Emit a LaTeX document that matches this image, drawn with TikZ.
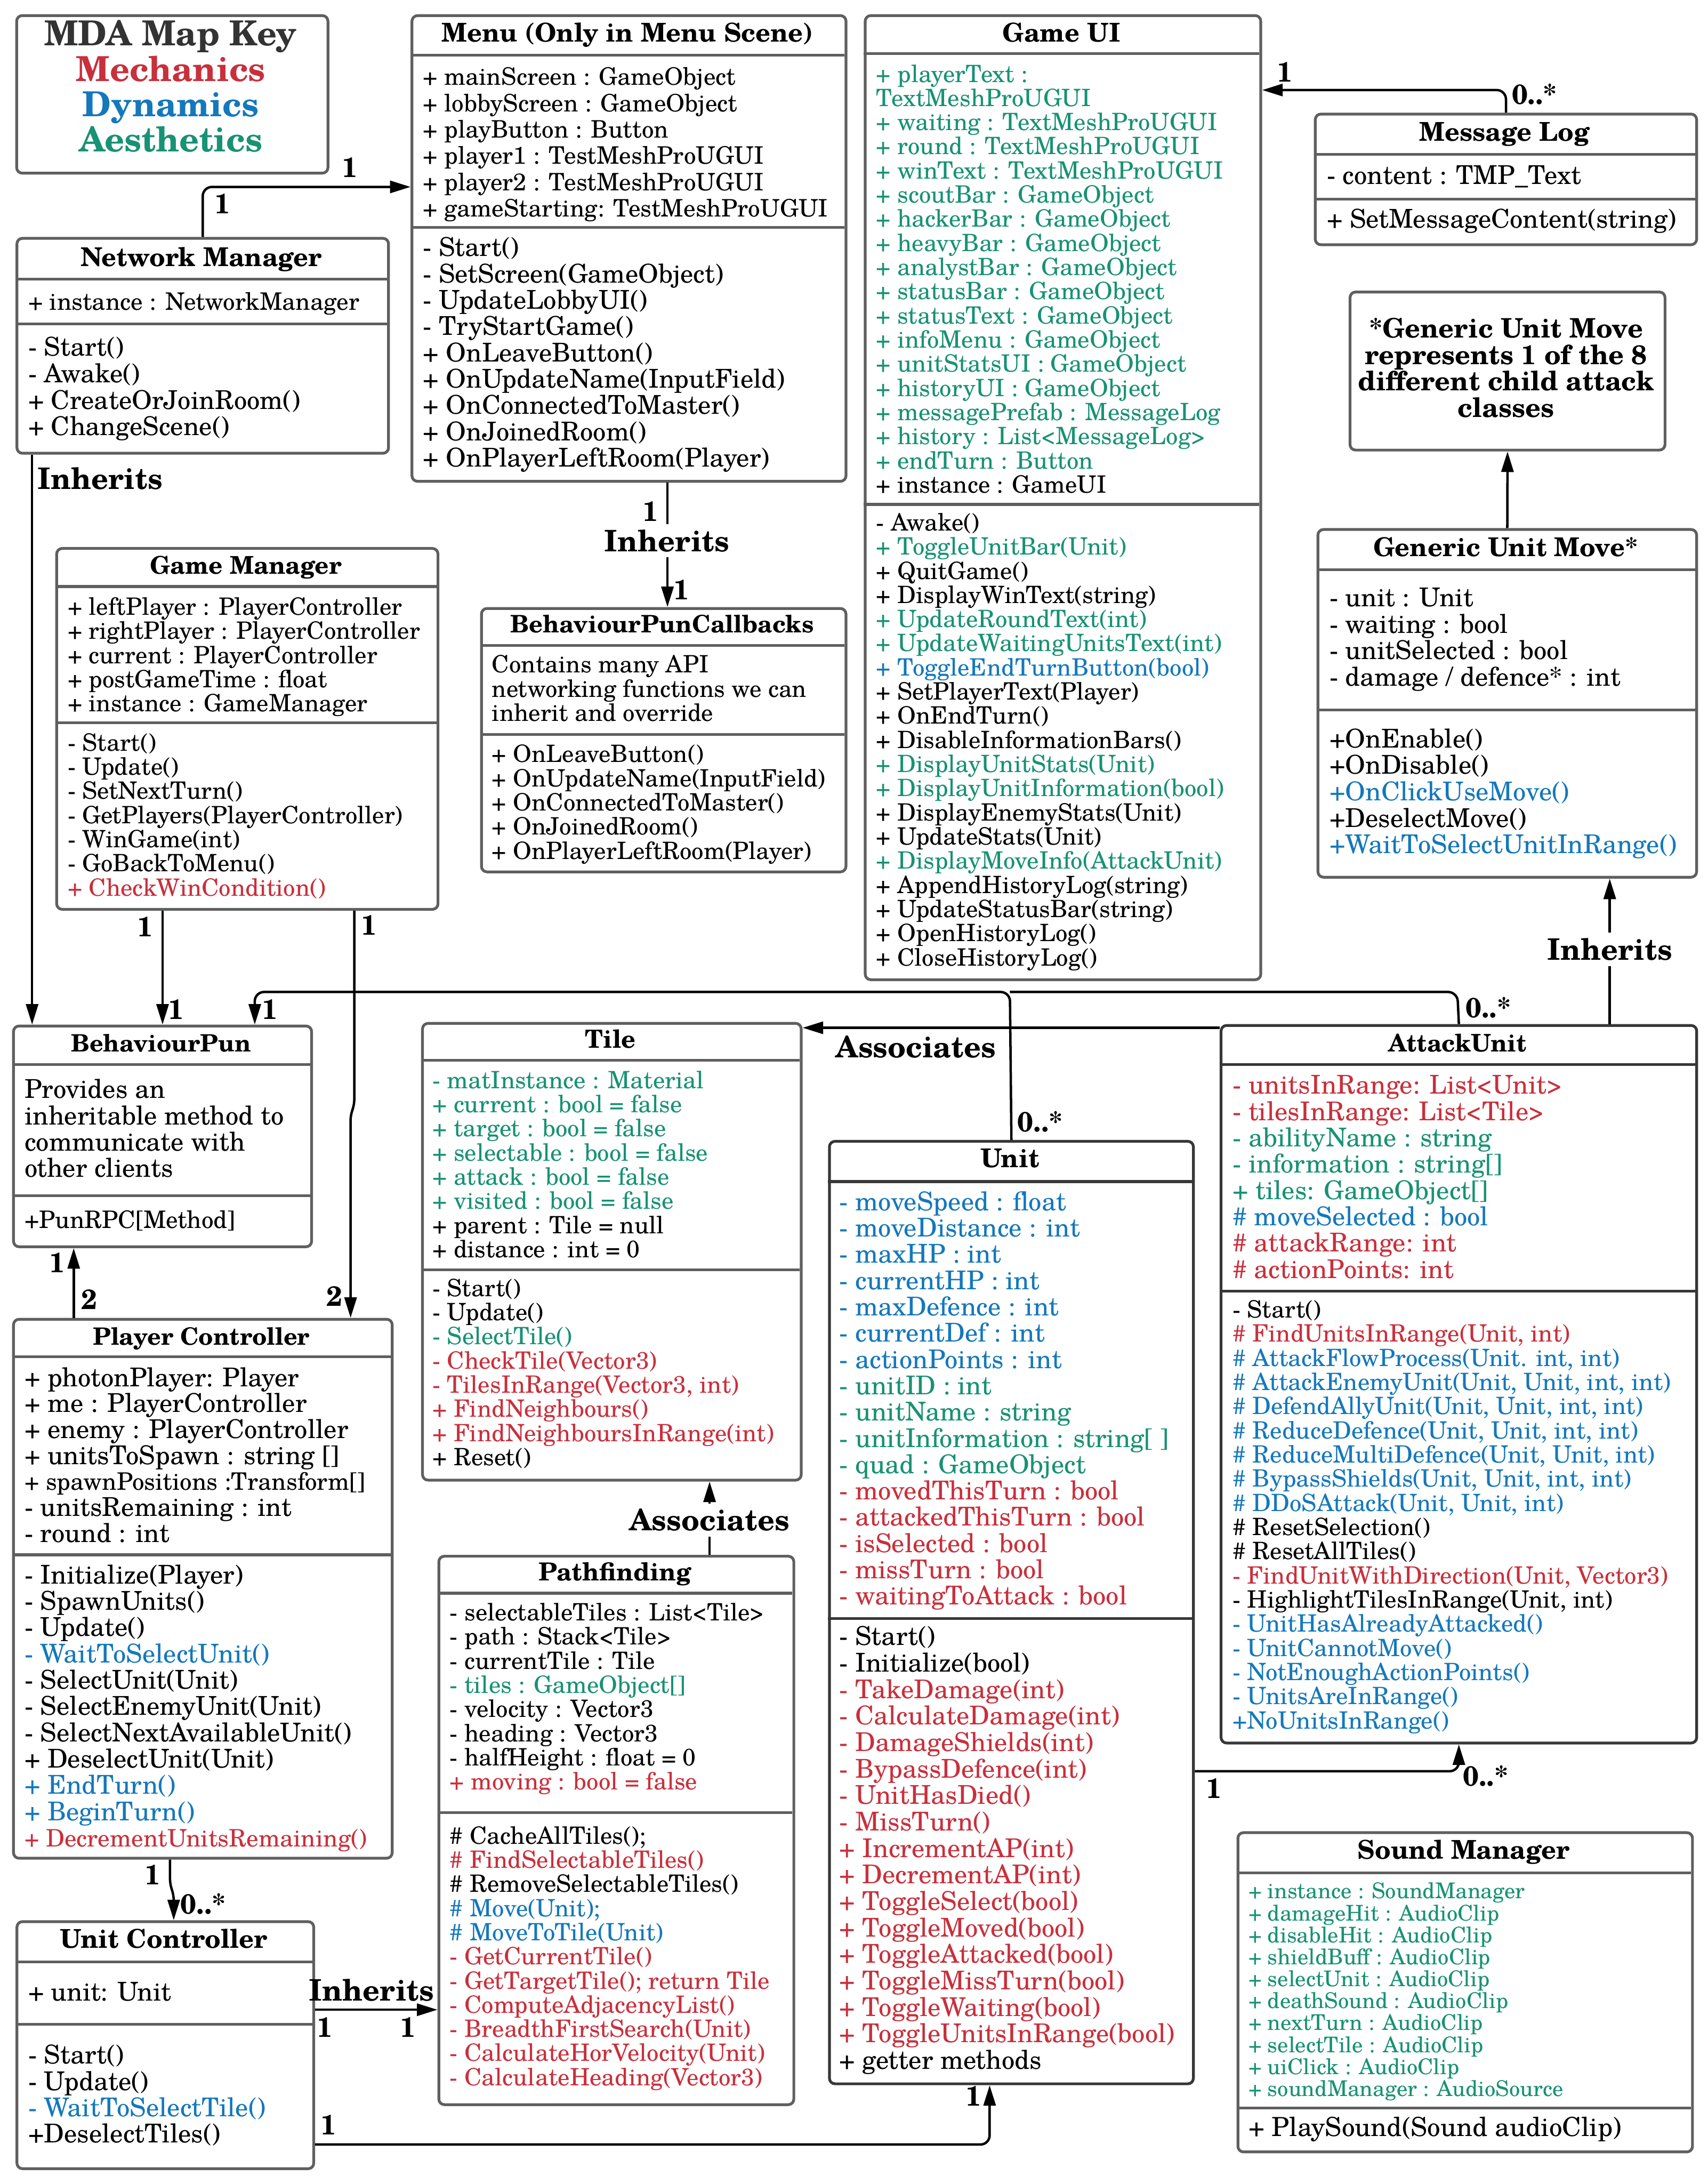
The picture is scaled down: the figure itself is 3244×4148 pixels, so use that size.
\documentclass[tikz,border=0pt]{standalone}
\usepackage{fontspec}
\setmainfont{texgyreschola}[Extension=.otf,UprightFont=*-regular,BoldFont=*-bold,ItalicFont=*-italic,BoldItalicFont=*-bolditalic]
\usetikzlibrary{arrows.meta}
\definecolor{mred}{RGB}{200,48,60}
\definecolor{mblue}{RGB}{20,120,188}
\definecolor{mgreen}{RGB}{24,146,116}
\definecolor{bgray}{RGB}{95,95,95}
\definecolor{bdark}{RGB}{55,55,55}
\newcommand\R[1]{\textcolor{mred}{#1}}
\newcommand\B[1]{\textcolor{mblue}{#1}}
\newcommand\G[1]{\textcolor{mgreen}{#1}}
\newcommand\lns[1]{\vtop{\let\\\cr\lineskiplimit=-100pt\relax\halign{##\hfil\cr#1\crcr}}}
\newcommand\clns[1]{\vtop{\let\\\cr\lineskiplimit=-100pt\relax\halign{\hfil##\hfil\cr#1\crcr}}}
\tikzset{
 umlbox/.style={draw=bgray, line width=1.5pt, rounded corners=3pt, anchor=north west, inner sep=0pt, fill=white},
 darkbox/.style={umlbox, draw=bdark},
 div/.style={draw=bgray, line width=1.5pt},
 ddiv/.style={draw=bdark, line width=1.5pt},
 ttl/.style={anchor=base, inner sep=0pt, font=\fontsize{14}{16}\selectfont\bfseries},
 ttls/.style={anchor=base, inner sep=0pt, font=\fontsize{13.1}{16}\selectfont\bfseries},
 txt/.style={anchor=base west, inner sep=0pt, font=\fontsize{13}{14.2}\selectfont},
 txtl/.style={anchor=base west, inner sep=0pt, font=\fontsize{14}{14.2}\selectfont},
 txts/.style={anchor=base west, inner sep=0pt, font=\fontsize{12.9}{13.05}\selectfont},
 conn/.style={draw=black, line width=1.3pt, rounded corners=5pt},
 arr/.style={conn, -{Triangle[length=0.39cm, width=0.23cm]}},
 mult/.style={inner sep=0pt, font=\fontsize{15}{16}\selectfont\bfseries},
 lbl/.style={inner sep=0pt, font=\fontsize{16}{18}\selectfont\bfseries},
 lblw/.style={lbl, fill=white, inner ysep=3pt, inner xsep=1pt},
}
\begin{document}
\begin{tikzpicture}[x=0.01cm, y=-0.01cm]
\fill[white] (0,0) rectangle (3244,4148);
\useasboundingbox (0,0) rectangle (3244,4148);

% ---------- MDA key
\node[umlbox, minimum width=5.91cm, minimum height=2.99cm] (key) at (29,27) {};
\node[anchor=base, inner sep=0pt, font=\fontsize{18.6}{20}\selectfont\bfseries, text=black!80] (keyt) at (324.5,87) {MDA Map Key};
\node[anchor=base, inner sep=0pt, font=\fontsize{18.6}{20}\selectfont\bfseries, text=mred] (keym) at (324.5,154) {Mechanics};
\node[anchor=base, inner sep=0pt, font=\fontsize{18.6}{20}\selectfont\bfseries, text=mblue] (keyd) at (324.5,221) {Dynamics};
\node[anchor=base, inner sep=0pt, font=\fontsize{18.6}{20}\selectfont\bfseries, text=mgreen] (keya) at (324.5,288) {Aesthetics};

% ---------- Network Manager
\node[umlbox, minimum width=7.055cm, minimum height=4.08cm] (nm) at (29.5,450) {};
\draw[div] (29.5,530) -- (735,530);
\draw[div] (29.5,615) -- (735,615);
\node[ttl] (nmt) at (382.25,506) {Network Manager};
\node[txt] (nma) at (53,589) {\lns{+ instance : NetworkManager}};
\node[anchor=base west, inner sep=0pt, font=\fontsize{14}{14.33}\selectfont] (nmm) at (53,676) {\lns{- Start()\\- Awake()\\+ CreateOrJoinRoom()\\+ ChangeScene()}};

% ---------- Menu
\node[umlbox, minimum width=8.24cm, minimum height=8.84cm] (menu) at (780,27) {};
\draw[div] (780,105) -- (1604,105);
\draw[div] (780,432) -- (1604,432);
\node[ttl] (menut) at (1192,80) {Menu (Only in Menu Scene)};
\node[txt] (menua) at (803,162) {\lns{+ mainScreen : GameObject\\+ lobbyScreen : GameObject\\+ playButton : Button\\+ player1 : TestMeshProUGUI\\+ player2 : TestMeshProUGUI\\+ gameStarting: TestMeshProUGUI}};
\node[txtl] (menum) at (803,487) {\lns{- Start()\\- SetScreen(GameObject)\\- UpdateLobbyUI()\\- TryStartGame()\\+ OnLeaveButton()\\+ OnUpdateName(InputField)\\+ OnConnectedToMaster()\\+ OnJoinedRoom()\\+ OnPlayerLeftRoom(Player)}};

% ---------- Game UI
\node[umlbox, minimum width=7.51cm, minimum height=18.30cm] (gui) at (1641,27) {};
\draw[div] (1641,102) -- (2392,102);
\draw[div] (1641,958) -- (2392,958);
\node[ttl] (guit) at (2016.5,79) {Game UI};
\node[txts] (guia) at (1664,156) {\lns{\G{+ playerText :}\\\G{TextMeshProUGUI}\\\G{+ waiting : TextMeshProUGUI}\\\G{+ round : TextMeshProUGUI}\\\G{+ winText : TextMeshProUGUI}\\\G{+ scoutBar : GameObject}\\\G{+ hackerBar : GameObject}\\\G{+ heavyBar : GameObject}\\\G{+ analystBar : GameObject}\\\G{+ statusBar : GameObject}\\\G{+ statusText : GameObject}\\\G{+ infoMenu : GameObject}\\\G{+ unitStatsUI : GameObject}\\\G{+ historyUI : GameObject}\\\G{+ messagePrefab : MessageLog}\\\G{+ history : List<MessageLog>}\\\G{+ endTurn : Button}\\+ instance : GameUI}};
\node[txts] (guim) at (1664,1008) {\lns{- Awake()\\\G{+ ToggleUnitBar(Unit)}\\+ QuitGame()\\+ DisplayWinText(string)\\\G{+ UpdateRoundText(int)}\\\G{+ UpdateWaitingUnitsText(int)}\\\B{+ ToggleEndTurnButton(bool)}\\+ SetPlayerText(Player)\\+ OnEndTurn()\\+ DisableInformationBars()\\\G{+ DisplayUnitStats(Unit)}\\\G{+ DisplayUnitInformation(bool)}\\+ DisplayEnemyStats(Unit)\\+ UpdateStats(Unit)\\\G{+ DisplayMoveInfo(AttackUnit)}\\+ AppendHistoryLog(string)\\+ UpdateStatusBar(string)\\+ OpenHistoryLog()\\+ CloseHistoryLog()}};

% ---------- Message Log
\node[umlbox, minimum width=7.24cm, minimum height=2.48cm] (msg) at (2496,214) {};
\draw[div] (2496,293) -- (3220,293);
\draw[div] (2496,378) -- (3220,378);
\node[ttl] (msgt) at (2858,268) {Message Log};
\node[txtl] (msga) at (2520,350) {\lns{- content : TMP\_Text}};
\node[txtl] (msgm) at (2520,433) {\lns{+ SetMessageContent(string)}};

% ---------- Note
\node[umlbox, minimum width=5.98cm, minimum height=3.00cm] (note) at (2562,552) {};
\node[anchor=base, inner sep=0pt, font=\fontsize{14.5}{14.23}\selectfont\bfseries] (notet) at (2861,642) {\clns{*Generic Unit Move\\represents 1 of the 8\\different child attack\\classes}};

% ---------- Generic Unit Move
\node[umlbox, minimum width=7.19cm, minimum height=6.60cm] (gum) at (2501,1003) {};
\draw[div] (2501,1082) -- (3220,1082);
\draw[div] (2501,1348) -- (3220,1348);
\node[ttl] (gumt) at (2860.5,1057) {Generic Unit Move*};
\node[anchor=base west, inner sep=0pt, font=\fontsize{14}{14.3}\selectfont] (guma) at (2525,1152) {\lns{- unit : Unit\\- waiting : bool\\- unitSelected : bool\\- damage / defence* : int}};
\node[anchor=base west, inner sep=0pt, font=\fontsize{14}{14.3}\selectfont] (gumm) at (2525,1420) {\lns{+OnEnable()\\+OnDisable()\\\B{+OnClickUseMove()}\\+DeselectMove()\\\B{+WaitToSelectUnitInRange()}}};

% ---------- BehaviourPunCallbacks
\node[umlbox, minimum width=6.92cm, minimum height=5.00cm] (bpc) at (912,1153) {};
\draw[div] (912,1226) -- (1604,1226);
\draw[div] (912,1395) -- (1604,1395);
\node[anchor=base, inner sep=0pt, font=\fontsize{13}{16}\selectfont\bfseries] (bpct) at (1258,1202) {BehaviourPunCallbacks};
\node[txts] (bpcd) at (934,1278) {\lns{Contains many API\\networking functions we can\\inherit and override}};
\node[txts] (bpcm) at (934,1448) {\lns{+ OnLeaveButton()\\+ OnUpdateName(InputField)\\+ OnConnectedToMaster()\\+ OnJoinedRoom()\\+ OnPlayerLeftRoom(Player)}};

% ---------- Game Manager
\node[umlbox, minimum width=7.24cm, minimum height=6.85cm] (gm) at (105,1039) {};
\draw[div] (105,1114) -- (829,1114);
\draw[div] (105,1373) -- (829,1373);
\node[anchor=base, inner sep=0pt, font=\fontsize{13.2}{16}\selectfont\bfseries] (gmt) at (467,1090) {Game Manager};
\node[txts] (gma) at (128,1168) {\lns{+ leftPlayer : PlayerController\\+ rightPlayer : PlayerController\\+ current : PlayerController\\+ postGameTime : float\\+ instance : GameManager}};
\node[txts] (gmm) at (128,1426) {\lns{- Start()\\- Update()\\- SetNextTurn()\\- GetPlayers(PlayerController)\\- WinGame(int)\\- GoBackToMenu()\\\R{+ CheckWinCondition()}}};

% ---------- BehaviourPun
\node[umlbox, minimum width=5.66cm, minimum height=4.19cm] (bp) at (23,1946) {};
\draw[div] (23,2022) -- (589,2022);
\draw[div] (23,2271) -- (589,2271);
\node[anchor=base, inner sep=0pt, font=\fontsize{12.9}{16}\selectfont\bfseries] (bpt) at (306,1998) {BehaviourPun};
\node[txtl] (bpd) at (46,2086) {\lns{Provides an\\inheritable method to\\communicate with\\other clients}};
\node[txt] (bpm) at (46,2333) {\lns{+PunRPC[Method]}};

% ---------- Tile
\node[umlbox, minimum width=7.19cm, minimum height=8.67cm] (tile) at (800,1941) {};
\draw[div] (800,2014) -- (1519,2014);
\draw[div] (800,2412) -- (1519,2412);
\node[anchor=base, inner sep=0pt, font=\fontsize{13.5}{16}\selectfont\bfseries] (tilet) at (1159.5,1990) {Tile};
\node[txts] (tilea) at (821,2067) {\lns{\G{- matInstance : Material}\\\G{+ current : bool = false}\\\G{+ target : bool = false}\\\G{+ selectable : bool = false}\\\G{+ attack : bool = false}\\\G{+ visited : bool = false}\\+ parent : Tile = null\\+ distance : int = 0}};
\node[txts] (tilem) at (821,2462) {\lns{- Start()\\- Update()\\\G{- SelectTile()}\\\R{- CheckTile(Vector3)}\\\R{- TilesInRange(Vector3, int)}\\\R{+ FindNeighbours()}\\\R{+ FindNeighboursInRange(int)}\\+ Reset()}};

% ---------- AttackUnit
\node[darkbox, minimum width=9.03cm, minimum height=13.62cm] (attack) at (2317,1945) {};
\draw[ddiv] (2317,2022) -- (3220,2022);
\draw[ddiv] (2317,2452) -- (3220,2452);
\node[ttls] (attackt) at (2768.5,1998) {AttackUnit};
\node[txtl] (attacka) at (2341,2078) {\lns{\R{- unitsInRange: List<Unit>}\\\R{- tilesInRange: List<Tile>}\\\G{- abilityName : string}\\\G{- information : string[]}\\\G{+ tiles: GameObject[]}\\\B{\# moveSelected : bool}\\\R{\# attackRange: int}\\\R{\# actionPoints: int}}};
\node[txts] (attackm) at (2341,2503) {\lns{- Start()\\\R{\# FindUnitsInRange(Unit, int)}\\\B{\# AttackFlowProcess(Unit. int, int)}\\\B{\# AttackEnemyUnit(Unit, Unit, int, int)}\\\B{\# DefendAllyUnit(Unit, Unit, int, int)}\\\B{\# ReduceDefence(Unit, Unit, int, int)}\\\B{\# ReduceMultiDefence(Unit, Unit, int)}\\\B{\# BypassShields(Unit, Unit, int, int)}\\\B{\# DDoSAttack(Unit, Unit, int)}\\\# ResetSelection()\\\# ResetAllTiles()\\\R{- FindUnitWithDirection(Unit, Vector3)}\\- HighlightTilesInRange(Unit, int)\\\B{- UnitHasAlreadyAttacked()}\\\B{- UnitCannotMove()}\\\B{- NotEnoughActionPoints()}\\\B{- UnitsAreInRange()}\\\B{+NoUnitsInRange()}}};

% ---------- Unit
\node[darkbox, minimum width=6.91cm, minimum height=17.89cm] (unit) at (1573,2165) {};
\draw[ddiv] (1573,2244) -- (2264,2244);
\draw[ddiv] (1573,3074) -- (2264,3074);
\node[ttl] (unitt) at (1918.5,2217) {Unit};
\node[txtl] (unita) at (1594,2299) {\lns{\B{- moveSpeed : float}\\\B{- moveDistance : int}\\\B{- maxHP : int}\\\B{- currentHP : int}\\\B{- maxDefence : int}\\\B{- currentDef : int}\\\B{- actionPoints : int}\\\G{- unitID : int}\\\G{- unitName : string}\\\G{- unitInformation : string[ ]}\\\G{- quad : GameObject}\\\R{- movedThisTurn : bool}\\\R{- attackedThisTurn : bool}\\\R{- isSelected : bool}\\\R{- missTurn : bool}\\\R{- waitingToAttack : bool}}};
\node[anchor=base west, inner sep=0pt, font=\fontsize{14}{14.3}\selectfont] (unitm) at (1594,3125) {\lns{- Start()\\- Initialize(bool)\\\R{- TakeDamage(int)}\\\R{- CalculateDamage(int)}\\\R{- DamageShields(int)}\\\R{- BypassDefence(int)}\\\R{- UnitHasDied()}\\\R{- MissTurn()}\\\R{+ IncrementAP(int)}\\\R{+ DecrementAP(int)}\\\R{+ ToggleSelect(bool)}\\\R{+ ToggleMoved(bool)}\\\R{+ ToggleAttacked(bool)}\\\R{+ ToggleMissTurn(bool)}\\\R{+ ToggleWaiting(bool)}\\\R{+ ToggleUnitsInRange(bool)}\\+ getter methods}};

% ---------- Player Controller
\node[umlbox, minimum width=7.19cm, minimum height=10.23cm] (pc) at (23,2503) {};
\draw[div] (23,2577) -- (742,2577);
\draw[div] (23,2953) -- (742,2953);
\node[anchor=base, inner sep=0pt, font=\fontsize{12.9}{16}\selectfont\bfseries] (pct) at (382.5,2554) {Player Controller};
\node[anchor=base west, inner sep=0pt, font=\fontsize{14}{14.03}\selectfont] (pca) at (46,2633) {\lns{+ photonPlayer: Player\\+ me : PlayerController\\+ enemy : PlayerController\\+ unitsToSpawn : string []\\{\fontsize{13}{14}\selectfont + spawnPositions :Transform[]}\\- unitsRemaining : int\\- round : int}};
\node[txtl] (pcm) at (46,3008) {\lns{- Initialize(Player)\\- SpawnUnits()\\- Update()\\\B{- WaitToSelectUnit()}\\- SelectUnit(Unit)\\- SelectEnemyUnit(Unit)\\- SelectNextAvailableUnit()\\+ DeselectUnit(Unit)\\\B{+ EndTurn()}\\\B{+ BeginTurn()}\\{\fontsize{13}{14}\selectfont\R{+ DecrementUnitsRemaining()}}}};

% ---------- Pathfinding
\node[umlbox, minimum width=6.74cm, minimum height=10.41cm] (pf) at (831,2953) {};
\draw[div] (831,3026) -- (1505,3026);
\draw[div] (831,3443) -- (1505,3443);
\node[anchor=base, inner sep=0pt, font=\fontsize{13.4}{16}\selectfont\bfseries] (pft) at (1168,3002) {Pathfinding};
\node[txts] (pfa) at (854,3078) {\lns{- selectableTiles : List<Tile>\\- path : Stack<Tile>\\- currentTile : Tile\\\G{- tiles : GameObject[]}\\- velocity : Vector3\\- heading : Vector3\\- halfHeight : float = 0\\\R{+ moving : bool = false}}};
\node[txts] (pfm) at (854,3502) {\lns{\# CacheAllTiles();\\\R{\# FindSelectableTiles()}\\\# RemoveSelectableTiles()\\\B{\# Move(Unit);}\\\B{\# MoveToTile(Unit)}\\\R{- GetCurrentTile()}\\\R{- GetTargetTile(); return Tile}\\\R{- ComputeAdjacencyList()}\\\R{- BreadthFirstSearch(Unit)}\\\R{- CalculateHorVelocity(Unit)}\\\R{- CalculateHeading(Vector3)}}};

% ---------- Unit Controller
\node[umlbox, minimum width=5.635cm, minimum height=4.69cm] (uc) at (29.5,3647) {};
\draw[div] (29.5,3726) -- (593,3726);
\draw[div] (29.5,3845) -- (593,3845);
\node[ttl] (uct) at (311,3700) {Unit Controller};
\node[txtl] (uca) at (53,3800) {\lns{+ unit: Unit}};
\node[txtl] (ucm) at (53,3920) {\lns{- Start()\\- Update()\\\B{- WaitToSelectTile()}\\+DeselectTiles()}};

% ---------- Sound Manager
\node[umlbox, minimum width=8.63cm, minimum height=6.06cm] (snd) at (2349,3478) {};
\draw[div] (2349,3557) -- (3212,3557);
\draw[div] (2349,4004) -- (3212,4004);
\node[ttl] (sndt) at (2780.5,3531) {Sound Manager};
\node[anchor=base west, inner sep=0pt, font=\fontsize{11.7}{11.86}\selectfont] (snda) at (2371,3606) {\lns{\G{+ instance : SoundManager}\\\G{+ damageHit : AudioClip}\\\G{+ disableHit : AudioClip}\\\G{+ shieldBuff : AudioClip}\\\G{+ selectUnit : AudioClip}\\\G{+ deathSound : AudioClip}\\\G{+ nextTurn : AudioClip}\\\G{+ selectTile : AudioClip}\\\G{+ uiClick : AudioClip}\\\G{+ soundManager : AudioSource}}};
\node[anchor=base west, inner sep=0pt, font=\fontsize{14.2}{15}\selectfont] (sndm) at (2371,4057) {\lns{+ PlaySound(Sound audioClip)}};

% ================= connectors
% Network Manager -> Menu
\coordinate (k1) at (382,355);
\draw[arr] (nm.north) |- (menu.west |- k1);
\node[mult] (m1a) at (423,387) {1};
\node[mult] (m1b) at (665,318) {1};

% Network Manager inherits BehaviourPun
\coordinate (k2) at (61,0);
\draw[arr] (nm.south -| k2) -- (bp.north -| k2);
\node[lbl] (l2) at (190,909) {Inherits};

% Menu inherits BehaviourPunCallbacks
\coordinate (k17) at (1268,0);
\draw[arr] (menu.south -| k17) -- (bpc.north -| k17);
\node[lblw] (l17) at (1267,1027) {Inherits};
\node[mult] (m17a) at (1236,971) {1};
\node[mult] (m17b) at (1295,1120) {1};

% Game Manager -> BehaviourPun
\draw[arr] (gm.south -| bp.north) -- (bp.north);
\node[mult] (m3a) at (276,1760) {1};
\node[mult] (m3b) at (335,1917) {1};

% Game Manager -> Player Controller
\coordinate (k4a) at (673,2100);
\coordinate (k4b) at (666,2116);
\draw[arr, rounded corners=3pt] (gm.south -| k4a) -- (k4a) -- (k4b) -- (pc.north -| k4b);
\node[mult] (m4a) at (701,1757) {1};
\node[mult] (m4b) at (635,2462) {2};

% Player Controller -> BehaviourPun
\coordinate (k5) at (140,0);
\draw[arr] (pc.north -| k5) -- (bp.south -| k5);
\node[mult] (m5a) at (109,2398) {1};
\node[mult] (m5b) at (170,2468) {2};

% Player Controller -> Unit Controller
\coordinate (k6a) at (323,3580);
\coordinate (k6b) at (330,3598);
\draw[arr, rounded corners=3pt] (pc.south -| k6a) -- (k6a) -- (k6b) -- (uc.north -| k6b);
\node[mult] (m6a) at (290,3561) {1};
\node[mult] (m6b) at (386,3616) {0..*};

% Unit Controller inherits Pathfinding
\coordinate (k7) at (0,3817);
\draw[arr] (uc.east |- k7) -- (pf.west |- k7);
\node[lbl] (l7) at (706,3780) {Inherits};
\node[mult] (m7a) at (617,3850) {1};
\node[mult] (m7b) at (775,3850) {1};

% Unit Controller -> Unit
\coordinate (k8) at (1880,4073);
\draw[arr] (uc.east |- k8) -| (unit.south -| k8);
\node[mult] (m8a) at (624,4036) {1};
\node[mult] (m8b) at (1850,3981) {1};

% Pathfinding associates Tile
\coordinate (k9) at (1348,0);
\draw[arr] (pf.north -| k9) -- (tile.south -| k9);
\node[lblw] (l9) at (1348,2887) {Associates};

% Unit / AttackUnit -> BehaviourPun
\coordinate (j1) at (1918.5,1884);
\coordinate (j2) at (484,1884);
\coordinate (j3) at (2768.5,1884);
\draw[conn] (attack.north) -- (j3) -- (j1);
\draw[arr] (unit.north) -- (j1) -- (j2) -- (bp.north -| j2);
\node[mult] (m10a) at (1976,2130) {0..*};
\node[mult] (m10b) at (513,1917) {1};
\node[mult] (m11a) at (2827,1914) {0..*};

% AttackUnit associates Tile
\coordinate (k12) at (0,1952);
\draw[arr] (attack.west |- k12) -- (tile.east |- k12);
\node[lbl] (l12) at (1740,1988) {Associates};

% Unit -> AttackUnit
\coordinate (k13) at (0,3364);
\draw[arr] (unit.east |- k13) -| (attack.south);
\node[mult] (m13a) at (2306,3397) {1};
\node[mult] (m13b) at (2822,3373) {0..*};

% Message Log -> Game UI
\coordinate (k14) at (0,171);
\draw[arr] (msg.north) |- (gui.east |- k14);
\node[mult] (m14a) at (2441,137) {1};
\node[mult] (m14b) at (2915,179) {0..*};

% Generic Unit Move -> note
\draw[arr] (gum.north) -- (note.south);

% AttackUnit inherits Generic Unit Move
\coordinate (k16) at (3058,0);
\draw[arr] (attack.north -| k16) -- (gum.south -| k16);
\node[lblw] (l16) at (3058,1803) {Inherits};
\end{tikzpicture}
\end{document}
